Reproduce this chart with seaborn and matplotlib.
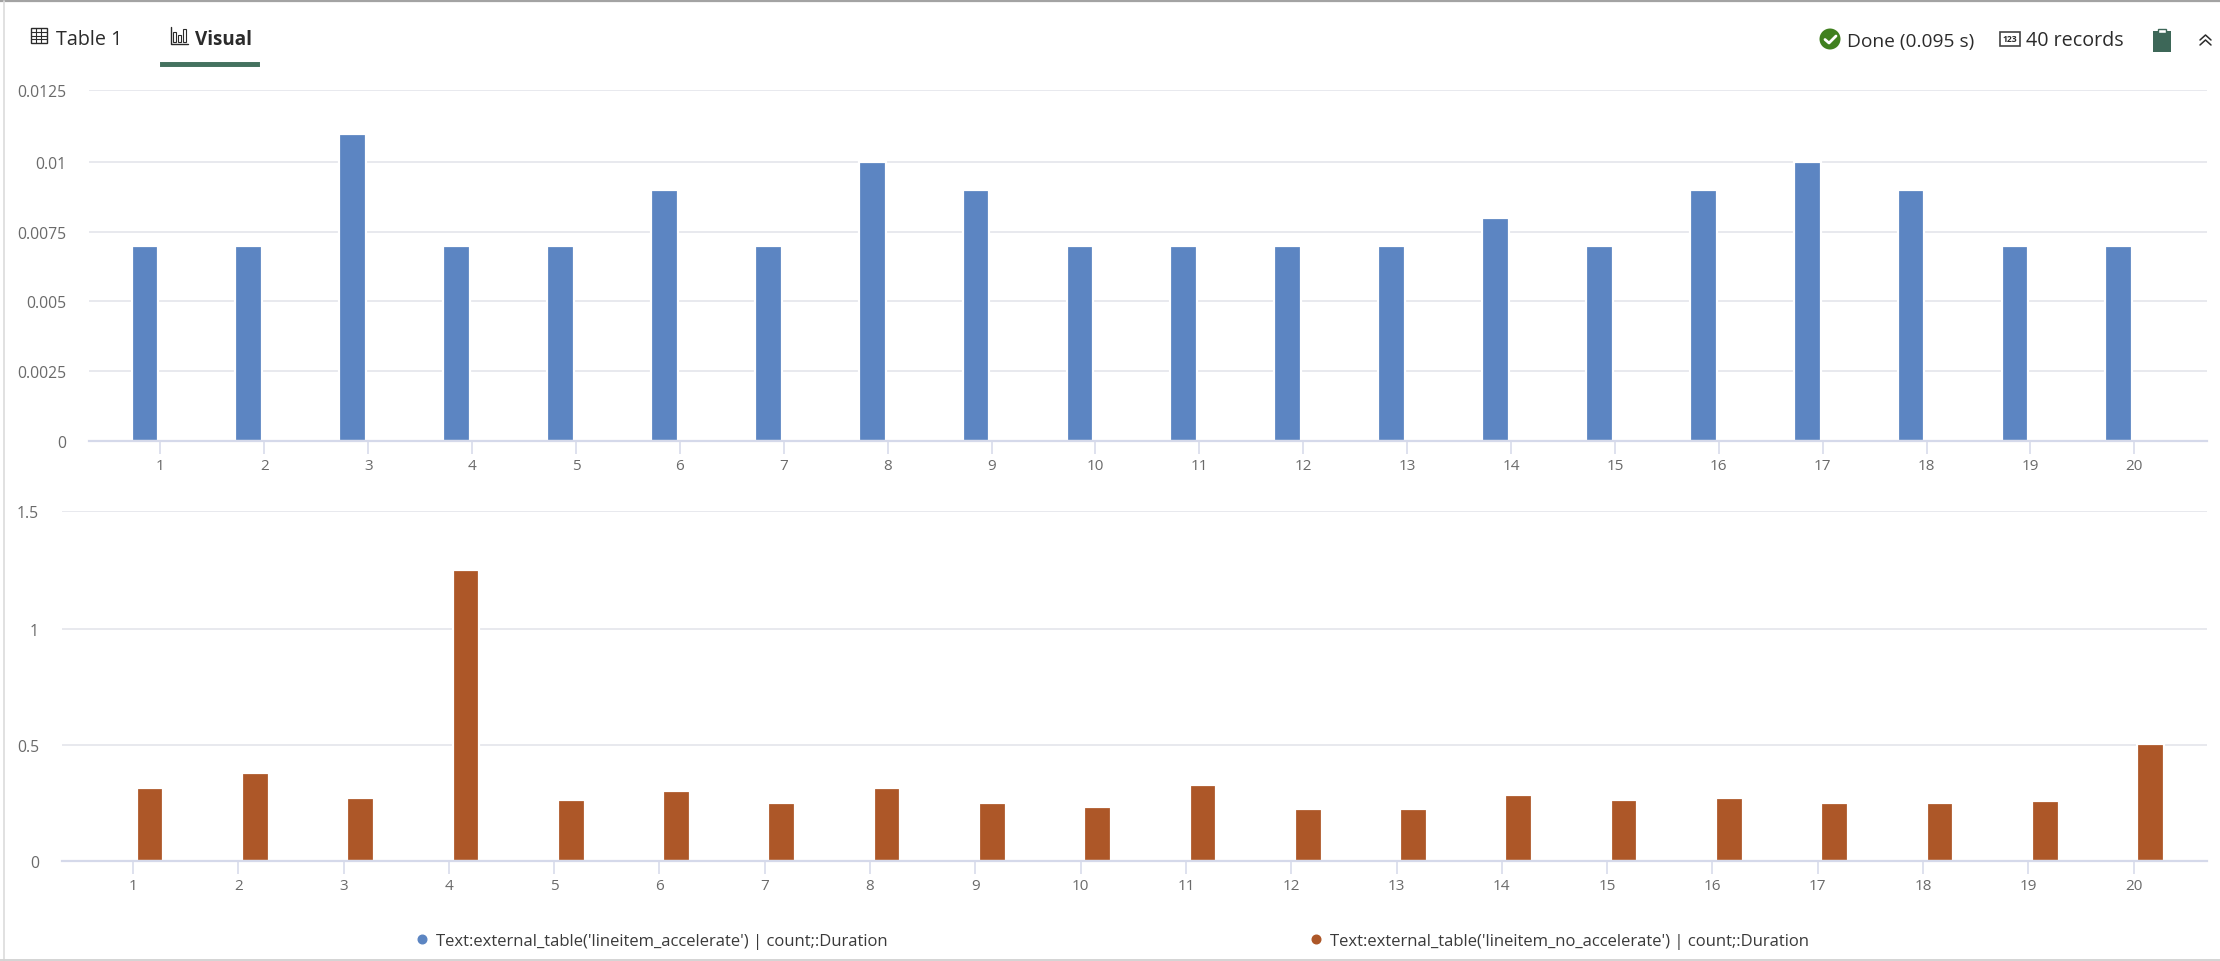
"""Query result panel with two stacked bar charts of query durations."""

import matplotlib
matplotlib.use("Agg")
import matplotlib.pyplot as plt
import pandas as pd
import seaborn as sns
from matplotlib.lines import Line2D
from matplotlib.patches import Circle, FancyBboxPatch, Rectangle

W, H = 2220, 962

RUNS = list(range(1, 21))
ACCELERATE = [0.007, 0.007, 0.011, 0.007, 0.007, 0.009, 0.007, 0.01, 0.009, 0.007,
              0.007, 0.007, 0.007, 0.008, 0.007, 0.009, 0.01, 0.009, 0.007, 0.007]
NO_ACCELERATE = [0.314, 0.379, 0.27, 1.254, 0.263, 0.301, 0.251, 0.314, 0.251, 0.234,
                 0.329, 0.224, 0.224, 0.283, 0.263, 0.27, 0.251, 0.251, 0.257, 0.504]
SERIES = ["Text:external_table('lineitem_accelerate') | count;:Duration",
          "Text:external_table('lineitem_no_accelerate') | count;:Duration"]
COLORS = ["#5c85c2", "#ad5728"]
# the chart pushes its top gridline a little above the regular spacing, so the
# last tick sits at the axis limit and keeps the round label
TOP_TICKS = [0, 0.0025, 0.005, 0.0075, 0.01, 0.01258]
TOP_LABELS = ["0", "0.0025", "0.005", "0.0075", "0.01", "0.0125"]
BOTTOM_TICKS = [0, 0.5, 1, 1.5086]
BOTTOM_LABELS = ["0", "0.5", "1", "1.5"]

GRID = "#e8e9ee"
AXIS = "#d5d9ea"
LABEL = "#6a6a6a"
DARK = "#2b2b2b"
GREEN = "#44725f"

sns.set_theme(style="white")
plt.rcParams["font.family"] = ["Open Sans", "DejaVu Sans"]

df = pd.concat([
    pd.DataFrame({"run": RUNS, "duration": ACCELERATE, "series": SERIES[0]}),
    pd.DataFrame({"run": RUNS, "duration": NO_ACCELERATE, "series": SERIES[1]}),
])

fig = plt.figure(figsize=(W / 100, H / 100), dpi=100, facecolor="white")


def px_axes(x0, y_top, x1, y_bottom):
    return fig.add_axes([x0 / W, 1 - y_bottom / H, (x1 - x0) / W, (y_bottom - y_top) / H])


def fx(x):
    return x / W


def fy(y):
    return 1 - y / H


def draw_panel(ax, data, ticks, labels, width, gap, xlim, pad):
    sns.barplot(data=data, x="run", y="duration", hue="series", hue_order=SERIES,
                palette=dict(zip(SERIES, COLORS)), saturation=1, width=width, gap=gap,
                dodge=True, edgecolor="white", linewidth=1.6, legend=False, ax=ax, zorder=2)
    ax.set_xlim(*xlim)
    ax.set_ylim(ticks[0], ticks[-1])
    ax.set_yticks(ticks, labels)
    ax.set_xlabel("")
    ax.set_ylabel("")
    ax.grid(axis="y", color=GRID, linewidth=1.4, zorder=0)
    ax.set_axisbelow(True)
    sns.despine(ax=ax, left=True, top=True, right=True)
    ax.spines["bottom"].set_color(AXIS)
    ax.spines["bottom"].set_linewidth(1.6)
    ax.spines["bottom"].set_zorder(3)
    ax.tick_params(axis="x", length=9.5, width=1.1, color=AXIS, labelcolor=LABEL,
                   labelsize=11, pad=3, bottom=True)
    ax.tick_params(axis="y", length=0, labelcolor=LABEL, labelsize=11.3, pad=pad)


ax_top = px_axes(89, 91, 2207, 442)
draw_panel(ax_top, df[df["series"] == SERIES[0]], TOP_TICKS, TOP_LABELS,
           0.596, 0.134, (-0.688, 19.70), 16.5)

ax_bottom = px_axes(62, 512, 2207, 862)
draw_panel(ax_bottom, df[df["series"] == SERIES[1]], BOTTOM_TICKS, BOTTOM_LABELS,
           0.646, 0.215, (-0.674, 19.697), 16.5)

# legend
handles = [Line2D([], [], linestyle="", marker="o", markersize=6.2, color=c) for c in COLORS]
leg = fig.legend(handles, SERIES, loc="center left", bbox_to_anchor=(fx(414), fy(942)),
                 ncols=2, frameon=False, fontsize=12, labelcolor="#3a3a3a",
                 handlelength=1.0, handletextpad=0.35, columnspacing=25.15,
                 borderaxespad=0, borderpad=0)

# result panel frame
fig.add_artist(Line2D([0, 1], [fy(2), fy(2)], color="#a3a3a3", linewidth=1.6))
fig.add_artist(Line2D([fx(3.5), fx(3.5)], [fy(2), fy(961)], color="#dcdcdc", linewidth=1.2))
fig.add_artist(Line2D([0, 1], [fy(961), fy(961)], color="#d4d4d4", linewidth=1.4))

# tabs
fig.text(fx(56), fy(40), "Table 1", fontsize=14.2, color=DARK, va="center")
fig.text(fx(195), fy(40), "Visual", fontsize=13.6, color=DARK, va="center", fontweight="bold")
fig.add_artist(FancyBboxPatch((fx(161), fy(67)), 98 / W, 3 / H, boxstyle="round,pad=0",
                              transform=fig.transFigure, facecolor=GREEN, edgecolor=GREEN,
                              linewidth=1.4))

# table icon
fig.add_artist(Rectangle((fx(30.5), fy(43.5)), 16 / W, 15 / H, transform=fig.transFigure,
                         fill=False, edgecolor=DARK, linewidth=1))
for yy in (33, 37, 40):
    fig.add_artist(Line2D([fx(30.5), fx(46.5)], [fy(yy), fy(yy)], color=DARK, linewidth=0.8))
for xx in (36, 41):
    fig.add_artist(Line2D([fx(xx), fx(xx)], [fy(29), fy(43.5)], color=DARK, linewidth=0.8))

# bar chart icon
fig.add_artist(Line2D([fx(170.5), fx(170.5), fx(187.5)], [fy(28), fy(45), fy(45)], color=DARK,
                      linewidth=1))
for xx, top in ((173, 33), (178, 36), (183, 30)):
    fig.add_artist(Rectangle((fx(xx), fy(43)), 3 / W, (43 - top) / H, transform=fig.transFigure,
                             fill=False, edgecolor=DARK, linewidth=0.8))

# status row
status_ax = fig.add_axes([0, 0, 1, 1], facecolor="none")
status_ax.set_xlim(0, W)
status_ax.set_ylim(H, 0)
status_ax.axis("off")
status_ax.add_patch(Circle((1830, 40), 10.5, facecolor="#40801f", edgecolor="none"))
status_ax.plot([1825, 1829, 1836], [40.5, 44, 37], color="white", linewidth=2)
status_ax.text(1847, 41.5, "Done (0.095 s)", fontsize=13.8, color=DARK, va="center")
status_ax.add_patch(Rectangle((2000, 33), 20, 13.5, fill=False, edgecolor="#444444", linewidth=1.2))
status_ax.text(2010, 39.8, "123", fontsize=6.2, color=DARK, va="center", ha="center",
               fontweight="bold")
status_ax.text(2026, 41.5, "40 records", fontsize=14.2, color=DARK, va="center")
status_ax.add_patch(Rectangle((2153, 32), 18, 20.5, facecolor="#3d6758", edgecolor="none"))
status_ax.add_patch(Rectangle((2158, 30), 8, 4, facecolor="white", edgecolor="#3d6758", linewidth=1))
status_ax.plot([2200, 2205.5, 2211], [41, 36, 41], color=DARK, linewidth=1.1)
status_ax.plot([2200, 2205.5, 2211], [46, 41, 46], color=DARK, linewidth=1.1)

fig.savefig("out.png", dpi=100)
